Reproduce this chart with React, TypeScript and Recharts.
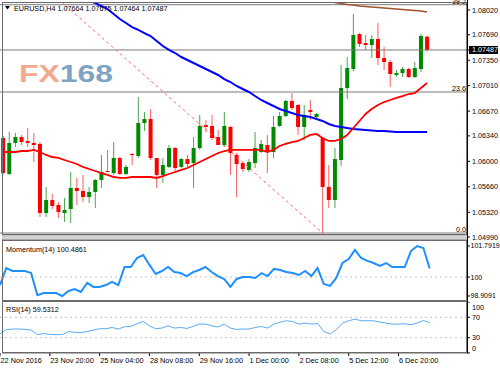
// EURUSD H4 chart (MT4 style): candles + MAs, Momentum(14), RSI(14)
import { ComposedChart, Bar, Line, XAxis, YAxis, ReferenceLine } from "recharts";

const FONT = '"Liberation Sans", Arial, sans-serif';
const SLOTS = 76; // 70 candles + empty shift on the right

const opens = [
  1.06312, 1.05831, 1.06245, 1.06325, 1.06272, 1.06245, 1.06232, 1.0531, 1.05484, 1.05417,
  1.0531, 1.05364, 1.05644, 1.05604, 1.05524, 1.05591, 1.05751, 1.05871, 1.05844, 1.06045,
  1.05831, 1.06098, 1.06071, 1.06512, 1.06565, 1.06045, 1.05818, 1.05925, 1.06178, 1.05925,
  1.06031, 1.05978, 1.06178, 1.06485, 1.06472, 1.06325, 1.06218, 1.06459, 1.06085, 1.05978,
  1.05885, 1.05978, 1.06125, 1.06218, 1.06125, 1.06472, 1.06605, 1.06806, 1.06752, 1.06459,
  1.06686, 1.06592, 1.06312, 1.05658, 1.05484, 1.06018, 1.06979, 1.07233, 1.077, 1.0758,
  1.07553, 1.07633, 1.0738, 1.07326, 1.07153, 1.07179, 1.07233, 1.07126, 1.07233, 1.07664,
];
const highs = [
  1.06338, 1.06392, 1.06378, 1.06352, 1.06445, 1.06378, 1.06258, 1.05658, 1.05564, 1.05457,
  1.05511, 1.05858, 1.05778, 1.05818, 1.05658, 1.05764, 1.06085, 1.06152, 1.06258, 1.06058,
  1.05951, 1.06111, 1.06859, 1.06659, 1.06699, 1.06045, 1.06045, 1.06218, 1.06192, 1.06045,
  1.06085, 1.06325, 1.06619, 1.06552, 1.06619, 1.06419, 1.06659, 1.06472, 1.06111, 1.05991,
  1.06031, 1.06392, 1.06285, 1.06352, 1.06605, 1.06659, 1.06819, 1.06912, 1.06766, 1.06752,
  1.06819, 1.06645, 1.06325, 1.05951, 1.06178, 1.07286, 1.07393, 1.07967, 1.07713, 1.07687,
  1.07687, 1.07847, 1.07527, 1.07353, 1.0722, 1.0726, 1.07246, 1.07326, 1.077, 1.07675,
];
const lows = [
  1.05818, 1.05818, 1.06192, 1.06218, 1.06192, 1.05991, 1.05257, 1.05257, 1.05364, 1.05244,
  1.0519, 1.05177, 1.05417, 1.05457, 1.05444, 1.05377, 1.05644, 1.05858, 1.05818, 1.05818,
  1.05818, 1.05951, 1.06045, 1.06405, 1.06018, 1.05644, 1.05711, 1.05911, 1.05858, 1.05911,
  1.05925, 1.05644, 1.06152, 1.06392, 1.06285, 1.06218, 1.06192, 1.05818, 1.05524, 1.05858,
  1.05858, 1.05911, 1.06111, 1.05844, 1.06045, 1.06459, 1.06592, 1.06686, 1.06352, 1.06285,
  1.06552, 1.06579, 1.05043, 1.05377, 1.05377, 1.05938, 1.06832, 1.07206, 1.07527, 1.07487,
  1.0738, 1.07286, 1.0722, 1.06993, 1.07126, 1.07126, 1.07113, 1.07113, 1.07193, 1.07464,
];
const closes = [
  1.05844, 1.06245, 1.06325, 1.06258, 1.06245, 1.06218, 1.0531, 1.05484, 1.05404, 1.05324,
  1.05351, 1.05644, 1.05604, 1.05524, 1.05591, 1.05751, 1.05858, 1.05858, 1.06045, 1.05831,
  1.05925, 1.06085, 1.06512, 1.06565, 1.06045, 1.05818, 1.05951, 1.06178, 1.05911, 1.06031,
  1.05965, 1.06178, 1.06472, 1.06459, 1.06312, 1.06218, 1.06472, 1.06111, 1.05965, 1.05898,
  1.05991, 1.06178, 1.06232, 1.06125, 1.06459, 1.06605, 1.06806, 1.06712, 1.06459, 1.06619,
  1.06659, 1.06632, 1.05658, 1.05484, 1.06031, 1.06979, 1.07246, 1.07687, 1.07567, 1.07553,
  1.07633, 1.0738, 1.07326, 1.07166, 1.07179, 1.07233, 1.07126, 1.07246, 1.07673, 1.07487,
];

// moving averages (null = off screen)
const maRed = [
  1.06125, 1.06125, 1.06125, 1.06138, 1.06138, 1.06152, 1.06125, 1.06085, 1.06058, 1.06045,
  1.06018, 1.05991, 1.05965, 1.05925, 1.05898, 1.05871, 1.05844, 1.05818, 1.05791, 1.05778,
  1.05778, 1.05791, 1.05791, 1.05791, 1.05791, 1.05778, 1.05804, 1.05831, 1.05858, 1.05885,
  1.05911, 1.05951, 1.05991, 1.06031, 1.06071, 1.06111, 1.06138, 1.06152, 1.06152, 1.06152,
  1.06152, 1.06152, 1.06152, 1.06125, 1.06152, 1.06205, 1.06232, 1.06258, 1.06272, 1.06312,
  1.06352, 1.06365, 1.06312, 1.06272, 1.06272, 1.06298, 1.06352, 1.06445, 1.06539, 1.06632,
  1.06699, 1.06752, 1.06792, 1.06819, 1.06846, 1.06872, 1.06899, 1.06912, 1.06979, 1.07046,
];
const maBlue = [
  null, null, null, null, null, null, null, null, null, null,
  null, null, 1.08221, 1.08181, 1.08141, 1.08114, 1.08074, 1.08034, 1.07967, 1.079,
  1.07847, 1.07793, 1.07754, 1.07713, 1.07673, 1.07607, 1.0754, 1.07487, 1.07446, 1.07393,
  1.07353, 1.07313, 1.07273, 1.07233, 1.07193, 1.07153, 1.07099, 1.07059, 1.07006, 1.06966,
  1.06926, 1.06872, 1.06819, 1.06779, 1.06739, 1.06699, 1.06672, 1.06645, 1.06619, 1.06605,
  1.06592, 1.06565, 1.06539, 1.06499, 1.06472, 1.06459, 1.06445, 1.06432, 1.06425, 1.06419,
  1.06412, 1.06405, 1.06405, 1.06398, 1.06392, 1.06392, 1.06392, 1.06392, 1.06392, 1.06392,
];
const maBrown = [
  null, null, null, null, null, null, null, null, null, null,
  null, null, null, null, null, null, null, null, null, null,
  null, null, null, null, null, null, null, null, null, null,
  null, null, null, null, null, null, null, null, null, null,
  null, null, null, null, null, null, null, null, null, null,
  null, null, 1.08167, 1.08141, 1.08121, 1.08107, 1.08094, 1.08087, 1.08074, 1.08067,
  1.08061, 1.08054, 1.08047, 1.08041, 1.08034, 1.08027, 1.0802, 1.08014, 1.08007, 1.07994,
];

// fibonacci trend line (from the high off screen to the 5 Dec low) and its levels
const fibLine = [
  { i: 0, price: 1.0882 },
  { i: 52, price: 1.05043 },
];
const fibLevels = [
  { label: "38.2", price: 1.08091 },
  { label: "23.6", price: 1.06926 },
  { label: "0.0", price: 1.05043 },
];
const BID = 1.07487;

const momentum = [
  99.54, 100.52, 100.35, 100.35, 100.35, 100.23, 98.95, 99.08, 99.08, 99.08,
  98.91, 99.2, 99.31, 99.14, 99.66, 99.43, 99.43, 99.54, 99.72, 99.54,
  100.58, 100.58, 101.1, 101.27, 100.7, 100.18, 100.35, 100.58, 100.29, 100.23,
  100.06, 100.29, 100.41, 100.58, 100.29, 100.06, 99.89, 99.43, 99.89, 100.0,
  100.0, 99.95, 100.23, 100.06, 100.47, 100.41, 100.29, 100.23, 100.12, 100.35,
  100.06, 100.52, 99.6, 99.49, 99.95, 100.81, 101.04, 101.56, 101.1, 100.93,
  100.81, 100.64, 100.81, 100.58, 100.58, 100.58, 101.5, 101.79, 101.68, 100.49,
];
const rsi = [
  37.8, 45.6, 47, 47, 46.5, 45, 36, 38, 36.5, 36,
  36, 42.3, 40.4, 39.8, 42.3, 45, 47.6, 47.6, 50.1, 47,
  51.5, 52, 57.3, 61.8, 53.4, 47.6, 48.9, 53.4, 48.9, 50.1,
  48.1, 52, 56.7, 56.7, 53.4, 50.9, 56.7, 48.9, 46.2, 47,
  47, 50.1, 52, 48.9, 56.7, 60.6, 63.2, 61.8, 56.7, 58.7,
  56.7, 57.9, 42.3, 37.2, 45.6, 58.7, 63.2, 66.5, 63.2, 63.2,
  63.2, 60.6, 58.7, 56.7, 56.7, 57.3, 55.4, 58.7, 63.7, 59.53,
];

const priceTicks = [1.0802, 1.0769, 1.0735, 1.0701, 1.0667, 1.0634, 1.06, 1.0566, 1.0532, BID];
const momTicks = [101.7919, 100, 98.9091];
const rsiTicks = [100, 70, 30, 0];
const timeTicks = [0, 8, 16, 24, 32, 40, 48, 56, 64];
const timeLabels = [
  "22 Nov 2016", "23 Nov 20:00", "25 Nov 04:00", "28 Nov 08:00", "29 Nov 16:00",
  "1 Dec 00:00", "2 Dec 08:00", "5 Dec 12:00", "6 Dec 20:00",
];

const data = Array.from({ length: SLOTS }, (_, i) => {
  const has = i < opens.length;
  const fib = fibLine.find((f) => f.i === i);
  return {
    i,
    range: has ? [lows[i], highs[i]] : null,
    open: has ? opens[i] : null,
    high: has ? highs[i] : null,
    low: has ? lows[i] : null,
    close: has ? closes[i] : null,
    maRed: has ? maRed[i] : null,
    maBlue: has ? maBlue[i] : null,
    maBrown: has ? maBrown[i] : null,
    fib: fib ? fib.price : null,
    mom: has ? momentum[i] : null,
    rsi: has ? rsi[i] : null,
  };
});

const UP = "#008a00";
const UP_WICK = "#4aa64a";
const DN = "#ff0000";
const DN_WICK = "#ff5c5c";
const FRAME = "#6b6b6b";

function Candle(props: any) {
  const { x, y, width, height, payload } = props;
  if (!payload || payload.open == null) return null;
  const { open, close, high, low } = payload;
  const top = Math.min(y, y + height);
  const bot = Math.max(y, y + height);
  const k = (bot - top) / (high - low);
  const cx = x + width / 2;
  const yO = top + (high - open) * k;
  const yC = top + (high - close) * k;
  const up = close >= open;
  return (
    <g>
      <line x1={cx} x2={cx} y1={top} y2={bot} stroke={up ? UP_WICK : DN_WICK} strokeWidth={1} />
      <rect
        x={cx - 2}
        y={Math.min(yO, yC)}
        width={4}
        height={Math.max(Math.abs(yC - yO), 1)}
        fill={up ? UP : DN}
      />
    </g>
  );
}

function PriceTick(props: any) {
  const { x, y, payload } = props;
  const v = payload.value;
  if (v === BID) {
    return (
      <g>
        <rect x={x - 3} y={y - 4} width={29} height={8} fill="#000" />
        <text x={x} y={y} dy="0.35em" fontSize={7.2} fontFamily={FONT} fill="#fff">
          {v.toFixed(5)}
        </text>
      </g>
    );
  }
  return (
    <text x={x} y={y} dy="0.35em" fontSize={7.2} fontFamily={FONT} fill="#000">
      {v.toFixed(5)}
    </text>
  );
}

function MomTick(props: any) {
  const { x, y, payload } = props;
  const v = payload.value;
  return (
    <text x={x - 1.5} y={y} dy="0.35em" fontSize={7} fontFamily={FONT} fill="#000">
      {v === 100 ? "100" : v.toFixed(4)}
    </text>
  );
}

function RsiTick(props: any) {
  const { x, y, payload } = props;
  const v = payload.value;
  const shift = v === 100 ? 5 : v === 0 ? -5 : 0;
  return (
    <text x={x} y={y + shift} dy="0.35em" fontSize={7.2} fontFamily={FONT} fill="#000">
      {v}
    </text>
  );
}

function TimeTick(props: any) {
  const { x, y, payload } = props;
  const idx = timeTicks.indexOf(payload.value);
  return (
    <g>
      <line x1={x} x2={x} y1={y} y2={y + 3} stroke="#000" />
      <text x={x + 0.5} y={y + 7} dy="0.35em" fontSize={7.3} fontFamily={FONT} fill="#000">
        {timeLabels[idx]}
      </text>
    </g>
  );
}

export default function App() {
  return (
    <div
      style={{
        position: "absolute",
        left: 0,
        top: 0,
        width: 500,
        height: 369,
        background: "#fff",
        overflow: "hidden",
      }}
    >
      {/* watermark */}
      <svg width={500} height={369} style={{ position: "absolute", left: 0, top: 0 }}>
        <text
          x={19}
          y={82}
          fontSize={23}
          fontWeight="bold"
          fontFamily={FONT}
          textLength={94}
          lengthAdjust="spacingAndGlyphs"
        >
          <tspan fill="#f3a98c">FX</tspan>
          <tspan fill="#7fa3c3">168</tspan>
        </text>
      </svg>

      {/* main price window */}
      <div style={{ position: "absolute", left: 0, top: 0 }}>
        <ComposedChart width={500} height={237} data={data} margin={{ top: 3, right: 0, bottom: 3, left: 0 }}>
          <XAxis dataKey="i" hide />
          <YAxis
            orientation="right"
            width={33}
            domain={[1.0503, 1.08114]}
            allowDataOverflow
            ticks={priceTicks}
            interval={0}
            tick={(p: any) => <PriceTick {...p} />}
            tickSize={3}
            tickLine={{ stroke: "#000" }}
            axisLine={{ stroke: "#000" }}
          />
          {fibLevels.map((f) => (
            <ReferenceLine
              key={f.label}
              y={f.price}
              stroke="#7a7a7a"
              label={{ value: f.label, position: "insideBottomRight", offset: 1, fontSize: 7.2, fill: "#000", fontFamily: FONT }}
            />
          ))}
          <ReferenceLine y={BID} stroke="#7a7a7a" />
          <Bar dataKey="range" shape={(p: any) => <Candle {...p} />} isAnimationActive={false} />
          <Line dataKey="fib" stroke="#ff6a6a" strokeWidth={1} strokeDasharray="3 3" dot={false} connectNulls isAnimationActive={false} />
          <Line dataKey="maBrown" stroke="#a0522d" strokeWidth={1.6} dot={false} isAnimationActive={false} />
          <Line dataKey="maBlue" stroke="#0000ff" strokeWidth={2} dot={false} isAnimationActive={false} />
          <Line dataKey="maRed" stroke="#ff0000" strokeWidth={1.8} dot={false} isAnimationActive={false} />
        </ComposedChart>
      </div>

      {/* momentum window */}
      <div style={{ position: "absolute", left: 0, top: 241 }}>
        <ComposedChart width={500} height={59} data={data} margin={{ top: 0, right: 0, bottom: 0, left: 0 }}>
          <XAxis dataKey="i" hide />
          <YAxis
            orientation="right"
            width={33}
            domain={[98.678, 102.08]}
            allowDataOverflow
            ticks={momTicks}
            interval={0}
            tick={(p: any) => <MomTick {...p} />}
            tickSize={3}
            tickLine={{ stroke: "#000" }}
            axisLine={{ stroke: "#000" }}
          />
          <ReferenceLine y={100} stroke="#c4c4c4" strokeDasharray="2 3" />
          <Line dataKey="mom" stroke="#1e8fff" strokeWidth={2} dot={false} isAnimationActive={false} />
        </ComposedChart>
      </div>

      {/* RSI window */}
      <div style={{ position: "absolute", left: 0, top: 302 }}>
        <ComposedChart width={500} height={67} data={data} margin={{ top: 0, right: 0, bottom: 0, left: 0 }}>
          <XAxis
            dataKey="i"
            height={16}
            ticks={timeTicks}
            interval={0}
            tickSize={0}
            tickMargin={0}
            axisLine={false}
            tickLine={false}
            tick={(p: any) => <TimeTick {...p} />}
          />
          <YAxis
            orientation="right"
            width={33}
            domain={[0, 100]}
            ticks={rsiTicks}
            interval={0}
            tick={(p: any) => <RsiTick {...p} />}
            tickSize={3}
            tickLine={{ stroke: "#000" }}
            axisLine={{ stroke: "#000" }}
          />
          <ReferenceLine y={70} stroke="#c4c4c4" strokeDasharray="2 3" />
          <ReferenceLine y={30} stroke="#c4c4c4" strokeDasharray="2 3" />
          <Line dataKey="rsi" stroke="#5aaaf5" strokeWidth={1} dot={false} isAnimationActive={false} />
        </ComposedChart>
      </div>

      {/* window frames and captions */}
      <svg width={500} height={369} style={{ position: "absolute", left: 0, top: 0, pointerEvents: "none" }}>
        <line x1={2} x2={467} y1={2.5} y2={2.5} stroke={FRAME} />
        <line x1={2.5} x2={2.5} y1={2} y2={353} stroke={FRAME} />
        <rect x={2} y={234} width={465} height={1.5} fill={FRAME} />
        <rect x={2} y={235.5} width={465} height={4} fill="#d2d2d2" />
        <rect x={2} y={239.5} width={465} height={1.5} fill={FRAME} />
        <rect x={2} y={300} width={465} height={2} fill={FRAME} />
        <rect x={2} y={352} width={465} height={1.5} fill={FRAME} />
        <line x1={467.5} x2={467.5} y1={0} y2={353} stroke="#000" />

        <polygon points="5,6 10,6 7.5,9.5" fill="#000" />
        <text x={14} y={8} dy="0.35em" fontSize={7.2} fontFamily={FONT} fill="#000">
          EURUSD,H4  1.07664 1.07675 1.07464 1.07487
        </text>
        <text x={6} y={249} dy="0.35em" fontSize={7.2} fontFamily={FONT} fill="#000">
          Momentum(14) 100.4861
        </text>
        <text x={6} y={309} dy="0.35em" fontSize={7.2} fontFamily={FONT} fill="#000">
          RSI(14) 59.5312
        </text>
        <line x1={467} x2={470} y1={237} y2={237} stroke="#000" />
        <text x={472} y={237.5} dy="0.35em" fontSize={7.2} fontFamily={FONT} fill="#000">
          1.04990
        </text>
      </svg>
    </div>
  );
}
